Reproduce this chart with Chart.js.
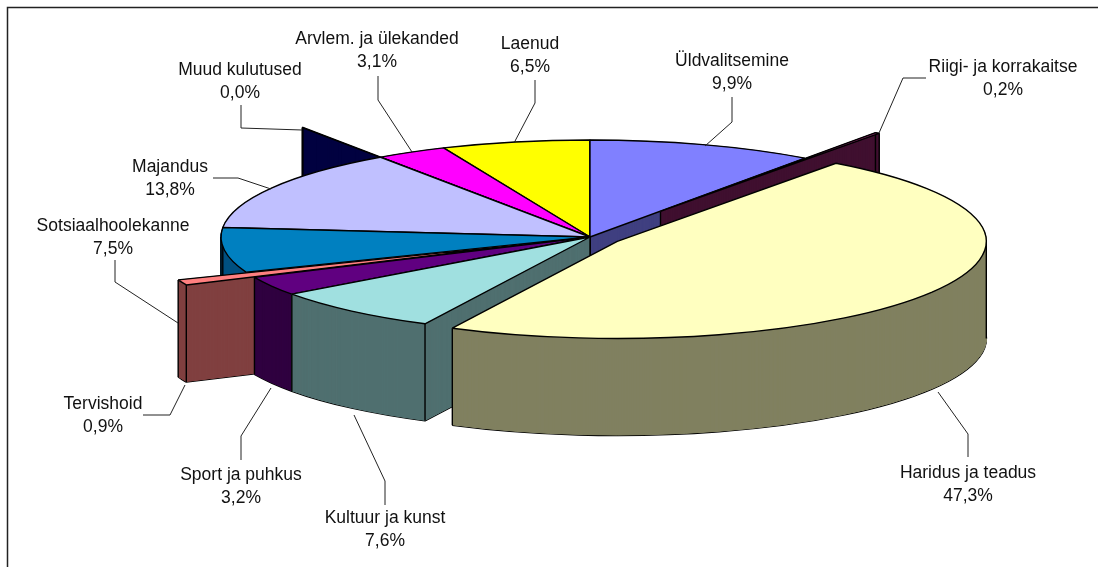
<!DOCTYPE html>
<html lang="et">
<head>
  <meta charset="UTF-8">
  <title>Kulud</title>
  <script src="https://cdn.jsdelivr.net/npm/chart.js"></script>
  <style>
    body { margin: 0; background: #fff; }
    canvas { display: block; }
  </style>
</head>
<body>
  <canvas id="pie" width="1098" height="567"></canvas>

  <script>
    // Chart values, clockwise from 12 o'clock
    var categories = ['Üldvalitsemine', 'Riigi- ja korrakaitse', 'Haridus ja teadus', 'Kultuur ja kunst',
      'Sport ja puhkus', 'Tervishoid', 'Sotsiaalhoolekanne', 'Majandus', 'Muud kulutused',
      'Arvlem. ja ülekanded', 'Laenud'];
    var shares = [9.9, 0.2, 47.3, 7.6, 3.2, 0.9, 7.5, 13.8, 0.04, 3.1, 6.5];

    // How far each slice is pulled out of the pie
    var explode = [0, 120, 32, 0, 0, 74, 0, 0, 137, 0, 0];

    var topColors = ['#8080FF', '#802060', '#FFFFC0', '#A0E0E0', '#600080', '#FF8080',
      '#0080C0', '#C0C0FF', '#000080', '#FF00FF', '#FFFF00'];
    var wallColors = ['#404080', '#401030', '#808060', '#507070', '#300040', '#804040',
      '#005080', '#606080', '#000040', '#800080', '#808000'];

    // Back to front
    var drawOrder = [10, 0, 9, 8, 1, 7, 6, 5, 4, 3, 2];

    var pieX = 590, pieY = 237, tilt = 0.263, depth = 97;

    // Label place (centre x, first line y) and leader line for each category
    var labelBoxes = [
      { x: 732, y: 61, line: [[732, 97], [732, 122], [705, 146]] },
      { x: 1003, y: 67, line: [[926, 78], [903, 78], [879, 133]] },
      { x: 968, y: 473, line: [[968, 457], [968, 434], [938, 392]] },
      { x: 385, y: 518, line: [[385, 505], [385, 481], [354, 415]] },
      { x: 241, y: 475, line: [[241, 460], [241, 436], [271, 388]] },
      { x: 103, y: 404, line: [[143, 415], [170, 415], [185, 385]] },
      { x: 113, y: 226, line: [[115, 260], [115, 282], [178, 323]] },
      { x: 170, y: 167, line: [[213, 178], [238, 178], [271, 189]] },
      { x: 240, y: 70, line: [[241, 105], [241, 128], [302, 130]] },
      { x: 377, y: 39, line: [[378, 76], [378, 100], [412, 152]] },
      { x: 530, y: 44, line: [[535, 80], [535, 103], [514, 143]] }
    ];

    // Where a point of a slice ends up on the page
    function project(el, i, angle, r, d) {
      var mid = (el.startAngle + el.endAngle) / 2;
      return {
        x: pieX + Math.cos(mid) * explode[i] + Math.cos(angle) * r,
        y: pieY + d + tilt * (Math.sin(mid) * explode[i] + Math.sin(angle) * r)
      };
    }

    function drawLayer(ctx, el, i, d, fill, border, borderWidth) {
      var mid = (el.startAngle + el.endAngle) / 2;
      var ox = Math.cos(mid) * explode[i], oy = Math.sin(mid) * explode[i];
      var saved = el.options;
      el.options = Object.assign({}, saved, { backgroundColor: fill, borderColor: border, borderWidth: borderWidth });
      ctx.setTransform(1, 0, 0, tilt, pieX - el.x + ox, pieY + d + tilt * (oy - el.y));
      el.draw(ctx);
      el.options = saved;
    }

    function drawEdge(ctx, p) {
      ctx.setTransform(1, 0, 0, 1, 0, 0);
      ctx.beginPath();
      ctx.moveTo(p.x, p.y);
      ctx.lineTo(p.x, p.y + depth);
      ctx.lineWidth = 1.4;
      ctx.strokeStyle = '#000';
      ctx.stroke();
    }

    function drawPrism(ctx, el, i) {
      var r = el.outerRadius;
      drawLayer(ctx, el, i, depth, wallColors[i], '#000', 1.6);
      // small steps, so the layers leave no gaps between them
      for (var d = depth - 0.5; d > 0; d -= 0.25) {
        drawLayer(ctx, el, i, d, wallColors[i], wallColors[i], 1);
      }
      drawEdge(ctx, project(el, i, el.startAngle, 0, 0));
      drawEdge(ctx, project(el, i, el.startAngle, r, 0));
      drawEdge(ctx, project(el, i, el.endAngle, r, 0));
      // left and right outline of the round side
      [0, Math.PI, 2 * Math.PI].forEach(function(a) {
        if (a > el.startAngle && a < el.endAngle) drawEdge(ctx, project(el, i, a, r, 0));
      });
      drawLayer(ctx, el, i, 0, topColors[i], '#000', 1.4);
    }

    var pie3d = {
      id: 'pie3d',
      beforeDatasetDraw: function(chart, args) {
        var ctx = chart.ctx;
        var plainStroke = ctx.stroke;
        // keep the line width even though the pie is squashed
        ctx.stroke = function() {
          ctx.save();
          ctx.setTransform(1, 0, 0, 1, 0, 0);
          plainStroke.call(ctx);
          ctx.restore();
        };
        ctx.save();
        drawOrder.forEach(function(i) {
          drawPrism(ctx, args.meta.data[i], i);
        });
        ctx.restore();
        delete ctx.stroke;
        return false;
      },
      afterDraw: function(chart) {
        var ctx = chart.ctx;
        ctx.save();
        // frame, only top and left are in the picture
        ctx.strokeStyle = '#222';
        ctx.lineWidth = 1.5;
        ctx.beginPath();
        ctx.moveTo(7.5, 567);
        ctx.lineTo(7.5, 7.5);
        ctx.lineTo(1098, 7.5);
        ctx.stroke();

        ctx.strokeStyle = '#222';
        ctx.lineWidth = 1;
        ctx.fillStyle = '#111';
        ctx.font = '17.5px "Liberation Sans"';
        ctx.textAlign = 'center';
        ctx.textBaseline = 'middle';
        categories.forEach(function(name, i) {
          var box = labelBoxes[i];
          ctx.beginPath();
          box.line.forEach(function(p, n) {
            if (n === 0) ctx.moveTo(p[0], p[1]);
            else ctx.lineTo(p[0], p[1]);
          });
          ctx.stroke();
          ctx.fillText(name, box.x, box.y);
          ctx.fillText(shares[i].toFixed(1).replace('.', ',') + '%', box.x, box.y + 23);
        });
        ctx.restore();
      }
    };

    new Chart(document.getElementById('pie'), {
      type: 'pie',
      data: {
        labels: categories,
        datasets: [{
          data: shares,
          backgroundColor: topColors,
          borderWidth: 0,
          radius: 369,
          clip: false
        }]
      },
      options: {
        responsive: false,
        animation: false,
        events: [],
        plugins: { legend: { display: false }, tooltip: { enabled: false } }
      },
      plugins: [pie3d]
    });
  </script>
</body>
</html>
